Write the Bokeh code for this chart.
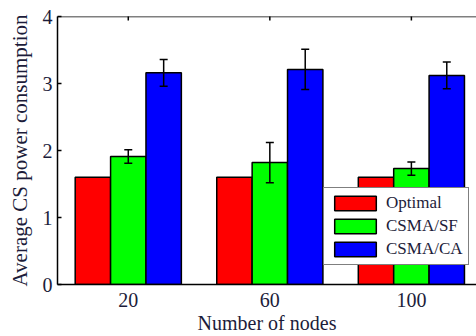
import numpy as np
from bokeh.plotting import figure
from bokeh.models import (ColumnDataSource, LinearAxis, FixedTicker, Whisker,
                          TeeHead, Legend, LegendItem, Range1d, Span)
from bokeh.embed import file_html
from bokeh.resources import INLINE

nodes = ["20", "60", "100"]
series = ["Optimal", "CSMA/SF", "CSMA/CA"]
optimal = [1.6, 1.6, 1.6]
csma_sf = [1.91, 1.82, 1.73]
csma_sf_err = [0.10, 0.30, 0.10]
csma_ca = [3.16, 3.21, 3.12]
csma_ca_err = [0.20, 0.30, 0.20]
colors = ["#ff0000", "#00ff00", "#0000ff"]

FONT = "'Liberation Serif', 'Times New Roman', serif"
TXT = "#1c1c3a"

p = figure(width=476, height=336, output_backend="svg", toolbar_location=None,
           x_range=Range1d(0.5, 3.46), y_range=Range1d(0, 4),
           x_axis_location=None, y_axis_location=None,
           min_border_left=57, min_border_right=0, min_border_top=16,
           min_border_bottom=50)
p.outline_line_color = None
p.xgrid.visible = False
p.ygrid.visible = False
p.background_fill_color = "white"
p.border_fill_color = "white"

xs = np.arange(1, len(nodes) + 1)
offsets = [-0.25, 0.0, 0.25]
vals = [optimal, csma_sf, csma_ca]
errs = [None, csma_sf_err, csma_ca_err]
renderers = []
for i in range(3):
    src = dict(x=xs + offsets[i], top=vals[i])
    if errs[i] is not None:
        src["upper"] = [v + e for v, e in zip(vals[i], errs[i])]
        src["lower"] = [v - e for v, e in zip(vals[i], errs[i])]
    s = ColumnDataSource(src)
    r = p.vbar(x="x", top="top", width=0.25, bottom=0, source=s,
               fill_color=colors[i], line_color="black", line_width=1.5)
    renderers.append(r)
    if errs[i] is not None:
        w = Whisker(base="x", upper="upper", lower="lower", source=s,
                    line_color="black", line_width=1.5, level="overlay",
                    upper_head=TeeHead(size=8, line_color="black", line_width=1.5),
                    lower_head=TeeHead(size=8, line_color="black", line_width=1.5))
        p.add_layout(w)

# top edge of the box, with inward tick marks at the group positions
p.add_layout(Span(location=p.y_range.end, dimension="width",
                  line_color="black", line_width=1.5))
p.scatter(x=list(xs), y=[p.y_range.end] * len(xs), marker="dash", angle=np.pi / 2,
          size=8, line_color="black", line_width=1.5)

# bottom axis
xb = LinearAxis(ticker=FixedTicker(ticks=list(xs)),
                major_label_overrides={int(k): n for k, n in zip(xs, nodes)},
                axis_label="Number of nodes")
xb.major_tick_in = 0
xb.major_tick_out = 0
xb.minor_tick_in = 0
xb.minor_tick_out = 0
xb.axis_line_width = 1.5
xb.axis_line_color = "black"
xb.major_label_text_font = FONT
xb.major_label_text_font_size = "20px"
xb.major_label_text_color = TXT
xb.major_label_standoff = 8
xb.axis_label_text_font = FONT
xb.axis_label_text_font_size = "20px"
xb.axis_label_text_font_style = "normal"
xb.axis_label_text_color = TXT
xb.axis_label_standoff = 2
p.add_layout(xb, "below")

# left axis
yl = LinearAxis(ticker=FixedTicker(ticks=[0, 1, 2, 3, 4]),
                axis_label="Average CS power consumption")
yl.major_tick_in = 4
yl.major_tick_out = 0
yl.minor_tick_in = 0
yl.minor_tick_out = 0
yl.axis_line_width = 1.5
yl.major_tick_line_width = 1.5
yl.major_label_text_font = FONT
yl.major_label_text_font_size = "20px"
yl.major_label_text_color = TXT
yl.major_label_standoff = 5
yl.axis_label_text_font = FONT
yl.axis_label_text_font_size = "21px"
yl.axis_label_text_font_style = "normal"
yl.axis_label_text_color = TXT
yl.axis_label_standoff = 8
p.add_layout(yl, "left")

legend = Legend(items=[LegendItem(label=series[i], renderers=[renderers[i]]) for i in range(3)],
                location=(266, 19))
legend.glyph_width = 52
legend.glyph_height = 18
legend.label_text_font = FONT
legend.label_text_font_size = "17px"
legend.label_text_color = TXT
legend.label_standoff = 5
legend.spacing = 3
legend.padding = 5
legend.margin = 0
legend.border_line_color = "black"
legend.border_line_width = 1.5
legend.background_fill_color = "white"
legend.background_fill_alpha = 1.0
p.add_layout(legend, "center")

open("out.html", "w").write(file_html(p, INLINE))
